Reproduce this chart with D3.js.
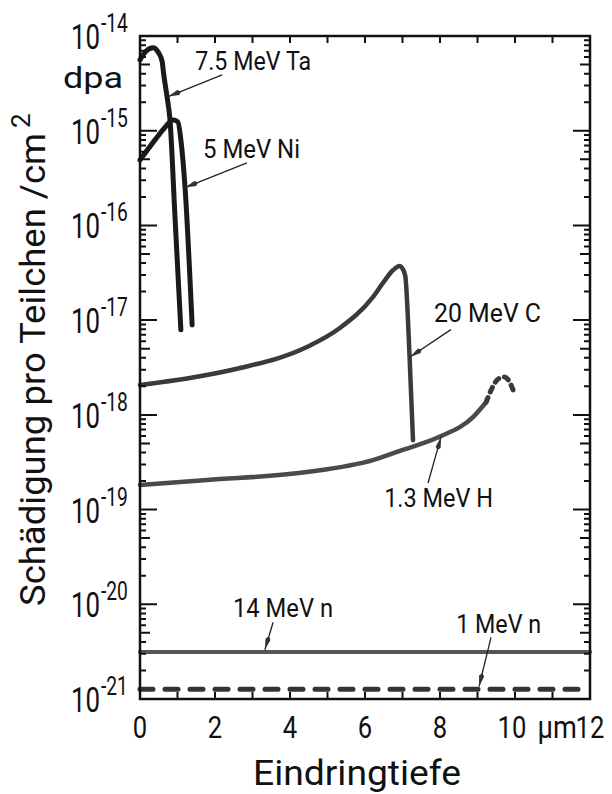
<!DOCTYPE html>
<html>
<head>
<meta charset="utf-8">
<script src="https://cdn.jsdelivr.net/npm/d3@7"></script>
<style>
  html, body { margin: 0; padding: 0; background: #fff; }
  svg { display: block; font-family: Roboto, "DejaVu Sans", sans-serif; }
</style>
</head>
<body>
<svg id="chart" width="612" height="794"></svg>
<script>
// ---- data (depth in µm, damage in dpa per particle/cm²) ----
const taDepth = [0, 0.16, 0.35, 0.48, 0.59, 0.63, 0.72, 0.8, 0.93, 1.09];
const taDpa   = [5.6e-15, 6.9e-15, 7.5e-15, 6.8e-15, 5.4e-15, 4.0e-15, 2.3e-15, 1.3e-15, 1.3e-16, 7.9e-18];

const niDepth = [0, 0.4, 0.67, 0.88, 1.01, 1.09, 1.2, 1.39];
const niDpa   = [4.9e-16, 8.0e-16, 1.09e-15, 1.30e-15, 1.24e-15, 8.0e-16, 2.55e-16, 8.9e-18];

const cDepth = [0, 1.33, 2.67, 4.45, 5.33, 6.21, 6.48, 6.75, 6.93, 7.07, 7.19, 7.28];
const cDpa   = [2.07e-18, 2.45e-18, 3.12e-18, 5.2e-18, 8.26e-18, 1.75e-17, 2.47e-17, 3.38e-17, 3.72e-17, 2.99e-17, 3.98e-18, 5.4e-19];

const hDepth = [0, 1.79, 4.45, 6.21, 6.99, 7.97, 8.88, 9.23];
const hDpa   = [1.82e-19, 2.05e-19, 2.49e-19, 3.33e-19, 4.25e-19, 5.83e-19, 9.48e-19, 1.36e-18];
const hTailDepth = [9.23, 9.39, 9.55, 9.71, 9.84, 9.97];
const hTailDpa   = [1.36e-18, 1.92e-18, 2.39e-18, 2.51e-18, 2.28e-18, 1.74e-18];

const neutronDepth = [0, 12];
const n14Dpa = [3.13e-21, 3.13e-21];
const n1Dpa  = [1.27e-21, 1.27e-21];

const xTickValues = [0, 2, 4, 6, 8, 10, 12];
const yDecades = [-21, -20, -19, -18, -17, -16, -15, -14];

// ---- layout ----
const W = 612, H = 794;
const margin = { top: 36, right: 22, bottom: 95, left: 140 };
const svg = d3.select('#chart');

const x = d3.scaleLinear().domain([0, 12]).range([margin.left, W - margin.right]);
const y = d3.scaleLog().domain([1e-21, 1e-14]).range([H - margin.bottom, margin.top]);
const plotL = margin.left, plotR = W - margin.right;
const plotB = H - margin.bottom, plotT = margin.top;

const zip = (a, b) => a.map((v, i) => [v, b[i]]);

const series = [
  { pts: zip(taDepth, taDpa), color: '#1a1a1a', width: 5 },
  { pts: zip(niDepth, niDpa), color: '#1a1a1a', width: 5 },
  { pts: zip(cDepth, cDpa), color: '#3a3a3a', width: 4.5 },
  { pts: zip(hDepth, hDpa), color: '#4a4a4a', width: 4.5 },
  { pts: zip(hTailDepth, hTailDpa), color: '#3a3a3a', width: 5, dash: '5,6' },
  { pts: zip(neutronDepth, n14Dpa), color: '#555', width: 4 },
  { pts: zip(neutronDepth, n1Dpa), color: '#333', width: 5, dash: '13,12' }
];

// labels: text anchor + leader from tail to head (data units, log10 for y)
const notes = [
  { text: '7.5 MeV Ta', at: [1.47, -14.36], len: 116, tail: [2.19, -14.41], head: [0.75, -14.64] },
  { text: '5 MeV Ni',   at: [1.68, -15.29], len: 97,  tail: [2.85, -15.34], head: [1.2, -15.60] },
  { text: '20 MeV C',   at: [7.84, -17.02], len: 107, tail: [8.29, -17.10], head: [7.2, -17.39] },
  { text: '1.3 MeV H',  at: [6.51, -18.97], len: 109, tail: [7.68, -18.72], head: [8.03, -18.23] },
  { text: '14 MeV n',   at: [2.48, -20.13], len: 100, tail: [3.55, -20.19], head: [3.33, -20.48] },
  { text: '1 MeV n',    at: [8.43, -20.30], len: 85,  tail: [9.36, -20.35], head: [9.04, -20.87] }
];

// ---- marker ----
svg.append('defs').append('marker')
  .attr('id', 'dart')
  .attr('viewBox', '0 -3 14 6')
  .attr('refX', 14).attr('refY', 0)
  .attr('markerWidth', 14).attr('markerHeight', 6)
  .attr('markerUnits', 'userSpaceOnUse')
  .attr('orient', 'auto')
  .append('path')
  .attr('d', 'M0,0 L3,-2.6 L14,0 L3,2.6 Z')
  .attr('fill', '#333');

// ---- curves ----
const line = d3.line()
  .x(d => x(d[0]))
  .y(d => y(d[1]))
  .curve(d3.curveMonotoneX);

svg.append('g').selectAll('path')
  .data(series)
  .join('path')
  .attr('d', d => line(d.pts))
  .attr('fill', 'none')
  .attr('stroke', d => d.color)
  .attr('stroke-width', d => d.width)
  .attr('stroke-linecap', 'round')
  .attr('stroke-linejoin', 'round')
  .attr('stroke-dasharray', d => d.dash || null);

// ---- frame ----
svg.append('rect')
  .attr('x', plotL).attr('y', plotT)
  .attr('width', plotR - plotL)
  .attr('height', plotB - plotT)
  .attr('fill', 'none')
  .attr('stroke', '#111')
  .attr('stroke-width', 2.5);

// ---- ticks (all pointing into the frame), drawn as one path ----
const logTicks = [];
yDecades.forEach(e => {
  logTicks.push(Math.pow(10, e));
  if (e < -14) for (let m = 2; m <= 9; m++) logTicks.push(m * Math.pow(10, e));
});
function tickLen(v) {
  const m = Math.round(v / Math.pow(10, Math.floor(Math.log10(v) + 1e-9)));
  return m === 1 ? 17 : m === 5 ? 10 : 6;
}
const depthTicks = d3.range(1, 12);

let tickPath = '';
logTicks.forEach(v => {
  const ty = y(v).toFixed(1), len = tickLen(v);
  tickPath += `M${plotL},${ty}h${len}`;
  tickPath += `M${plotR},${ty}h${-len}`;
});
depthTicks.forEach(v => {
  const tx = x(v).toFixed(1);
  tickPath += `M${tx},${plotB}v-7`;
  tickPath += `M${tx},${plotT}v7`;
});
svg.append('path')
  .attr('d', tickPath)
  .attr('fill', 'none')
  .attr('stroke', '#111')
  .attr('stroke-width', 2);

// ---- annotations ----
const noteG = svg.append('g');
notes.forEach(n => {
  noteG.append('line')
    .attr('x1', x(n.tail[0])).attr('y1', y(Math.pow(10, n.tail[1])))
    .attr('x2', x(n.head[0])).attr('y2', y(Math.pow(10, n.head[1])))
    .attr('stroke', '#222').attr('stroke-width', 1.3)
    .attr('marker-end', 'url(#dart)');
  noteG.append('text')
    .attr('x', x(n.at[0])).attr('y', y(Math.pow(10, n.at[1])))
    .attr('font-size', 25)
    .attr('textLength', n.len)
    .attr('lengthAdjust', 'spacingAndGlyphs')
    .attr('fill', '#111')
    .text(n.text);
});

// ---- tick labels ----
const condensed = 0.74;
yDecades.forEach(e => {
  const ty = y(Math.pow(10, e));
  svg.append('text')
    .attr('transform', `translate(100,${ty + 13}) scale(${condensed},1)`)
    .attr('text-anchor', 'end')
    .attr('font-size', 35)
    .attr('fill', '#111')
    .text('10');
  svg.append('text')
    .attr('transform', `translate(101,${ty - 4}) scale(${condensed},1)`)
    .attr('font-size', 26)
    .attr('fill', '#111')
    .text('-' + Math.abs(e));
});

xTickValues.forEach(v => {
  svg.append('text')
    .attr('transform', `translate(${x(v) - (v === 10 ? 3 : 0)},${plotB + 39}) scale(0.8,1)`)
    .attr('text-anchor', 'middle')
    .attr('font-size', 32)
    .attr('fill', '#111')
    .text(v);
});
svg.append('text')
  .attr('transform', `translate(${x(10.6)},${plotB + 39}) scale(0.85,1)`)
  .attr('font-size', 32)
  .attr('fill', '#111')
  .text('µm');

// ---- axis titles ----
svg.append('text')
  .attr('x', 253).attr('y', 785)
  .attr('font-size', 35)
  .attr('textLength', 208)
  .attr('lengthAdjust', 'spacingAndGlyphs')
  .attr('fill', '#111')
  .text('Eindringtiefe');

svg.append('text')
  .attr('transform', 'translate(45,606) rotate(-90)')
  .attr('font-size', 35)
  .attr('textLength', 473)
  .attr('lengthAdjust', 'spacingAndGlyphs')
  .attr('fill', '#111')
  .text('Schädigung pro Teilchen /cm');
svg.append('text')
  .attr('transform', 'translate(30,128) rotate(-90)')
  .attr('font-size', 26)
  .attr('fill', '#111')
  .text('2');

svg.append('text')
  .attr('x', 63).attr('y', 88)
  .attr('font-size', 29)
  .attr('textLength', 60)
  .attr('lengthAdjust', 'spacingAndGlyphs')
  .attr('fill', '#111')
  .text('dpa');
</script>
</body>
</html>
